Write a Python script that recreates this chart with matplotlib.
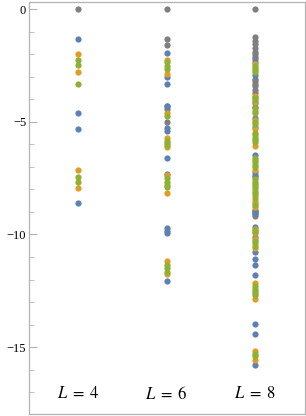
import numpy as np
import matplotlib
matplotlib.use("Agg")
import matplotlib.pyplot as plt

plt.rcParams["font.family"] = ["Liberation Serif", "DejaVu Serif"]
plt.rcParams["mathtext.fontset"] = "stix"

# system sizes on the x axis
sizes = [4, 6, 8]
labels = [r"$L\;=\;4$", r"$L\;=\;6$", r"$L\;=\;8$"]

# values, one list per colour and per L
gray4 = [0]
blue4 = [-1.31, -4.62, -5.31, -8.62]
orange4 = [-2.0, -2.78, -7.15, -7.92]
green4 = [-2.25, -2.49, -3.31, -7.45, -7.68]

gray6 = [0, -1.31, -1.59, -4.28, -5.02]
blue6 = [-1.96, -3.0, -3.31, -4.3, -4.43, -5.28, -5.42, -6.61, -7.3,
         -9.7, -9.85, -9.95, -12.08]
orange6 = [-2.27, -2.88, -4.6, -5.71, -6.12, -7.37, -8.15, -11.2, -11.74]
green6 = [-2.35, -2.5, -2.65, -4.72, -5.85, -5.95, -6.05, -7.5, -7.65,
          -7.8, -7.9, -11.35, -11.5, -11.65]

gray8 = [0, -1.25, -1.4, -1.55, -1.7, -1.9, -2.0, -2.1, -2.2, -3.1, -3.2,
         -3.3, -3.4, -3.6, -3.7, -8.95, -9.0, -9.1, -9.2]
blue8 = [-2.34, -2.9, -3.9, -4.15, -4.33, -4.85, -5.25, -6.49, -7.24,
         -7.35, -7.46, -8.9, -9.05, -9.65, -10.1, -10.76, -11.1, -11.35,
         -11.79, -13.97, -14.41, -15.79]
orange8 = [-2.45, -3.85, -4.1, -4.9, -5.3, -6.09, -7.15, -8.26, -8.5,
           -8.6, -8.79, -9.75, -9.95, -10.2, -10.6, -12.15, -12.85,
           -15.17, -15.57]
green8 = [-2.5, -2.6, -2.7, -2.8, -3.95, -4.05, -4.4, -4.5, -4.6, -5.0,
          -5.1, -5.5, -5.6, -5.7, -5.8, -5.9, -6.6, -6.7, -6.8, -6.9, -7.0,
          -7.55, -7.65, -7.75, -7.85, -7.95, -8.05, -8.15, -8.4, -8.7,
          -9.8, -9.9, -10.3, -10.4, -10.5, -12.3, -12.4, -12.5, -12.6,
          -12.7, -15.3, -15.4]

grays = [gray4, gray6, gray8]
blues = [blue4, blue6, blue8]
oranges = [orange4, orange6, orange8]
greens = [green4, green6, green8]

fig = plt.figure(figsize=(3.06, 4.16), dpi=100)
ax = fig.add_axes([29 / 306, 2 / 416, 276 / 306, 412 / 416])

for vals, col in [(grays, "#7f7f7f"), (blues, "#5e81b5"),
                  (oranges, "#e19c24"), (greens, "#8fb032")]:
    for L, v in zip(sizes, vals):
        ax.plot([L] * len(v), v, "o", color=col, ms=4.5, mew=0, ls="none")

for L, t in zip(sizes, labels):
    ax.text(L, -17.1, t, ha="center", va="center", fontsize=12)

ax.set_xlim(2.89, 9.13)
ax.set_ylim(-17.97, 0.32)
ax.set_xticks([])
ax.set_yticks([0, -5, -10, -15])
ax.set_yticks(np.arange(-17, 1, 1), minor=True)
ax.set_yticklabels(["0", "\u22125", "\u221210", "\u221215"])
ax.tick_params(axis="y", which="major", direction="in", length=6,
               width=0.8, color="#b3b3b3", labelsize=9, pad=2)
ax.tick_params(axis="y", which="minor", direction="in", length=3.5,
               width=0.6, color="#b3b3b3")
for s in ax.spines.values():
    s.set_color("#b3b3b3")
    s.set_linewidth(0.9)

fig.savefig("out.png", dpi=100)
